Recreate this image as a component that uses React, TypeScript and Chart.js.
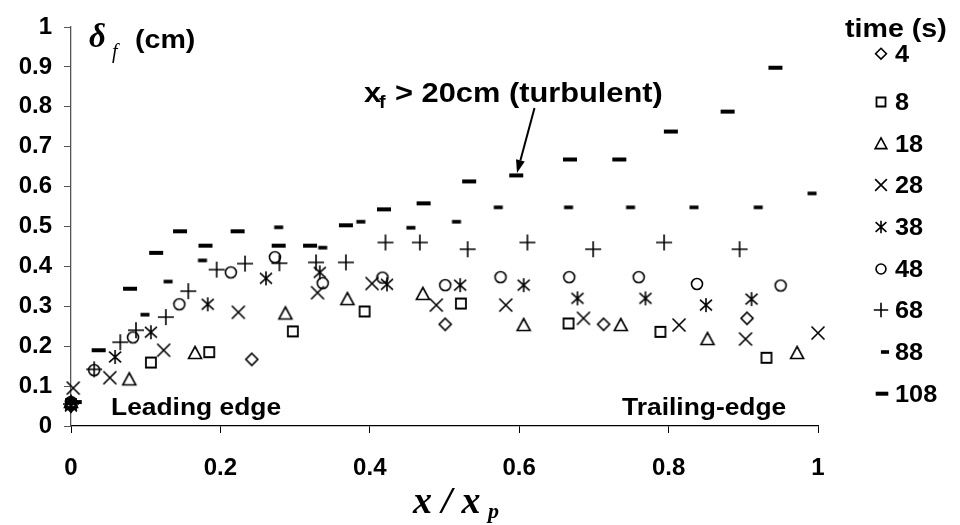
import React, { useEffect, useRef } from "react";
import { Chart, registerables } from "chart.js";
Chart.register(...registerables);

// ---- data ----
const seriesLabels = ["4", "8", "18", "28", "38", "48", "68", "88", "108"];

const x4 = [0, 0.242, 0.501, 0.713, 0.905];
const y4 = [0.05, 0.167, 0.255, 0.255, 0.27];

const x8 = [0, 0.107, 0.185, 0.297, 0.393, 0.522, 0.666, 0.789, 0.931];
const y8 = [0.055, 0.159, 0.185, 0.237, 0.287, 0.307, 0.257, 0.236, 0.171];

const x18 = [0, 0.078, 0.166, 0.287, 0.37, 0.471, 0.606, 0.736, 0.852, 0.972];
const y18 = [0.06, 0.117, 0.183, 0.282, 0.318, 0.331, 0.253, 0.253, 0.218, 0.183];

const x28 = [0.003, 0.052, 0.124, 0.224, 0.33, 0.403, 0.489, 0.582, 0.686, 0.814, 0.903, 1.0];
const y28 = [0.095, 0.121, 0.19, 0.285, 0.334, 0.357, 0.303, 0.303, 0.27, 0.253, 0.218, 0.233];

const x38 = [0, 0.059, 0.107, 0.183, 0.261, 0.333, 0.423, 0.521, 0.606, 0.678, 0.769, 0.85, 0.911];
const y38 = [0.05, 0.173, 0.235, 0.305, 0.37, 0.385, 0.355, 0.353, 0.353, 0.32, 0.32, 0.303, 0.318];

const x48 = [0, 0.031, 0.083, 0.145, 0.214, 0.273, 0.337, 0.417, 0.501, 0.575, 0.667, 0.76, 0.838, 0.95];
const y48 = [0.06, 0.14, 0.222, 0.305, 0.385, 0.423, 0.358, 0.372, 0.353, 0.373, 0.373, 0.373, 0.356, 0.352];

const x68 = [0, 0.031, 0.066, 0.087, 0.127, 0.157, 0.195, 0.233, 0.279, 0.328, 0.368, 0.421, 0.467, 0.531, 0.611, 0.699, 0.794, 0.895];
const y68 = [0.055, 0.142, 0.21, 0.24, 0.273, 0.338, 0.392, 0.407, 0.408, 0.41, 0.41, 0.46, 0.46, 0.443, 0.46, 0.443, 0.46, 0.443];

const x88 = [0, 0.099, 0.13, 0.176, 0.278, 0.337, 0.388, 0.455, 0.516, 0.572, 0.666, 0.749, 0.834, 0.92, 0.992];
const y88 = [0.06, 0.279, 0.362, 0.415, 0.498, 0.447, 0.512, 0.497, 0.512, 0.548, 0.548, 0.548, 0.548, 0.548, 0.583];

const x108 = [0.005, 0.037, 0.079, 0.114, 0.146, 0.18, 0.223, 0.278, 0.32, 0.368, 0.419, 0.472, 0.533, 0.596, 0.668, 0.734, 0.803, 0.879, 0.943];
const y108 = [0.06, 0.19, 0.344, 0.434, 0.488, 0.452, 0.488, 0.452, 0.452, 0.503, 0.543, 0.558, 0.613, 0.628, 0.668, 0.668, 0.738, 0.788, 0.898];

const xTickStep = 0.2;
const yTickStep = 0.1;

const seriesX = [x4, x8, x18, x28, x38, x48, x68, x88, x108];
const seriesY = [y4, y8, y18, y28, y38, y48, y68, y88, y108];
const markerKinds = ["diamond", "square", "triangle", "cross", "asterisk", "circle", "plus", "dashS", "dashL"];

const SANS = '"Liberation Sans", Arial, sans-serif';
const SERIF = '"Liberation Serif", "Times New Roman", serif';
const STRETCH = 1.1;

function drawMarker(ctx: CanvasRenderingContext2D, kind: string, c: number, d: number, k: number) {
  ctx.save();
  ctx.strokeStyle = "#000";
  ctx.fillStyle = "#000";
  ctx.lineWidth = 1.6;
  ctx.beginPath();
  if (kind === "diamond") {
    const h = 6 * k;
    ctx.moveTo(c, d - h); ctx.lineTo(c + h, d); ctx.lineTo(c, d + h); ctx.lineTo(c - h, d); ctx.closePath();
    ctx.stroke();
  } else if (kind === "square") {
    const h = 5 * k;
    ctx.lineWidth = 1.8;
    ctx.rect(c - h, d - h, 2 * h, 2 * h);
    ctx.stroke();
  } else if (kind === "triangle") {
    ctx.moveTo(c, d - 6.5 * k); ctx.lineTo(c + 6.5 * k, d + 5.5 * k); ctx.lineTo(c - 6.5 * k, d + 5.5 * k); ctx.closePath();
    ctx.stroke();
  } else if (kind === "cross") {
    const h = 6.5 * k;
    ctx.moveTo(c - h, d - h); ctx.lineTo(c + h, d + h);
    ctx.moveTo(c + h, d - h); ctx.lineTo(c - h, d + h);
    ctx.stroke();
  } else if (kind === "asterisk") {
    const h = 6 * k;
    ctx.moveTo(c - h, d - h * 0.9); ctx.lineTo(c + h, d + h * 0.9);
    ctx.moveTo(c + h, d - h * 0.9); ctx.lineTo(c - h, d + h * 0.9);
    ctx.moveTo(c, d - 7 * k); ctx.lineTo(c, d + 7 * k);
    ctx.stroke();
  } else if (kind === "circle") {
    ctx.arc(c, d, 5.5 * k, 0, Math.PI * 2);
    ctx.stroke();
  } else if (kind === "plus") {
    const h = 8 * k;
    ctx.moveTo(c - h, d); ctx.lineTo(c + h, d);
    ctx.moveTo(c, d - h); ctx.lineTo(c, d + h);
    ctx.stroke();
  } else if (kind === "dashS") {
    ctx.fillRect(c - 4.5 * k, d - 1.8, 9 * k, 3.6);
  } else if (kind === "dashL") {
    ctx.fillRect(c - 7 * k, d - 2, 14 * k, 4);
  }
  ctx.restore();
}

function makeMarkerCanvas(kind: string) {
  const cv = document.createElement("canvas");
  cv.width = 28;
  cv.height = 28;
  const ctx = cv.getContext("2d")!;
  drawMarker(ctx, kind, 14, 14, 1);
  return cv;
}

function stretchText(ctx: CanvasRenderingContext2D, text: string, x: number, y: number, font: string, sx = STRETCH) {
  ctx.save();
  ctx.translate(x, y);
  ctx.scale(sx, 1);
  ctx.font = font;
  ctx.textAlign = "left";
  ctx.textBaseline = "alphabetic";
  ctx.fillStyle = "#000";
  ctx.fillText(text, 0, 0);
  ctx.restore();
}

const legendBaselines = [61.7, 110, 151.7, 193, 235, 277, 318, 360, 401.7];

const overlayPlugin = {
  id: "overlay",
  afterDraw(chart: any) {
    const ctx: CanvasRenderingContext2D = chart.ctx;
    ctx.save();
    // y-axis title: delta_f (cm)
    ctx.fillStyle = "#000";
    ctx.textBaseline = "alphabetic";
    ctx.font = `bold italic 33px ${SERIF}`;
    ctx.fillText("\u03B4", 89, 47);
    ctx.font = `italic 20px ${SERIF}`;
    ctx.fillText("f", 112, 58);
    stretchText(ctx, "(cm)", 135, 48, `bold 26px ${SANS}`);

    // x-axis title: x / x_p
    ctx.font = `bold italic 38px ${SERIF}`;
    ctx.fillText("x / x", 413, 513);
    ctx.font = `bold italic 22px ${SERIF}`;
    ctx.fillText("p", 488, 518);

    // annotation
    stretchText(ctx, "x", 364, 102, `bold 28px ${SANS}`);
    stretchText(ctx, "f", 379, 108, `bold 18px ${SANS}`);
    stretchText(ctx, "> 20cm (turbulent)", 395, 102, `bold 28px ${SANS}`);

    // arrow
    const sx = 534.5, sy = 108, tx = 517, ty = 173;
    const dx = tx - sx, dy = ty - sy;
    const len = Math.hypot(dx, dy);
    const ux = dx / len, uy = dy / len;
    const hl = 13, hw = 4.5;
    const bx = tx - ux * hl, by = ty - uy * hl;
    ctx.strokeStyle = "#000";
    ctx.lineWidth = 2;
    ctx.beginPath();
    ctx.moveTo(sx, sy);
    ctx.lineTo(bx, by);
    ctx.stroke();
    ctx.beginPath();
    ctx.moveTo(tx, ty);
    ctx.lineTo(bx - uy * hw, by + ux * hw);
    ctx.lineTo(bx + uy * hw, by - ux * hw);
    ctx.closePath();
    ctx.fill();

    // edge labels
    stretchText(ctx, "Leading edge", 111, 415, `bold 24px ${SANS}`);
    stretchText(ctx, "Trailing-edge", 622, 415, `bold 24px ${SANS}`);

    // legend
    stretchText(ctx, "time (s)", 845, 37, `bold 26px ${SANS}`);
    seriesLabels.forEach((lab, i) => {
      const base = legendBaselines[i];
      const cy = base - 8;
      const kind = markerKinds[i];
      const mx = kind === "dashS" ? 885 : kind === "dashL" ? 882 : 881;
      drawMarker(ctx, kind, mx, cy, 0.9);
      stretchText(ctx, lab, 895, base, `bold 23px ${SANS}`);
    });
    ctx.restore();
  },
};

export default function App() {
  const ref = useRef<HTMLCanvasElement | null>(null);
  useEffect(() => {
    if (!ref.current) return;
    const datasets = seriesLabels.map((lab, i) => ({
      label: lab,
      data: seriesX[i].map((x, j) => ({ x, y: seriesY[i][j] })),
      pointStyle: makeMarkerCanvas(markerKinds[i]) as any,
      pointRadius: 7,
      showLine: false,
      clip: false as any,
    }));
    const tickCb = (v: any) => String(Math.round(Number(v) * 10) / 10);
    const chart = new Chart(ref.current, {
      type: "scatter",
      data: { datasets },
      options: {
        animation: false,
        responsive: false,
        devicePixelRatio: 1,
        events: [],
        layout: { padding: { left: 0, top: 27, right: 142, bottom: 0 } },
        plugins: { legend: { display: false }, tooltip: { enabled: false } },
        scales: {
          x: {
            type: "linear",
            min: 0,
            max: 1,
            afterFit: (s: any) => { s.height = 99; },
            ticks: {
              stepSize: xTickStep,
              color: "#000",
              padding: 21,
              maxRotation: 0,
              font: { family: SANS, size: 24, weight: "bold" },
              callback: tickCb,
            },
            grid: { drawOnChartArea: false, drawTicks: true, tickLength: 7, color: "#000", lineWidth: 1 },
            border: { color: "#000", width: 1.3 },
          },
          y: {
            type: "linear",
            min: 0,
            max: 1,
            afterFit: (s: any) => { s.width = 71; },
            ticks: {
              stepSize: yTickStep,
              color: "#000",
              padding: 12,
              font: { family: SANS, size: 24, weight: "bold" },
              callback: tickCb,
            },
            grid: { drawOnChartArea: false, drawTicks: true, tickLength: 7, color: "#555", lineWidth: 1 },
            border: { color: "#555", width: 1.3 },
          },
        },
      } as any,
      plugins: [overlayPlugin as any],
    });
    return () => chart.destroy();
  }, []);
  return (
    <div style={{ position: "absolute", left: 0, top: 0, width: 960, height: 525, background: "#fff" }}>
      <canvas ref={ref} width={960} height={525} style={{ width: 960, height: 525, display: "block" }} />
    </div>
  );
}
